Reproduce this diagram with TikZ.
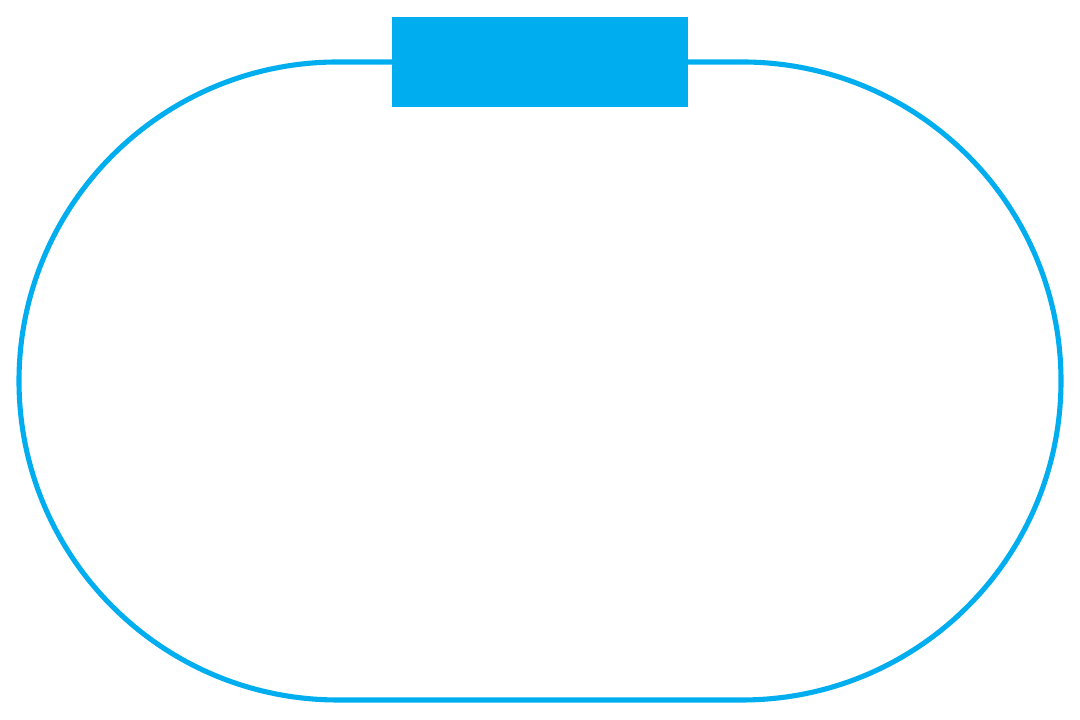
\documentclass[tikz,border=0pt]{standalone}
\usepackage{tikz}
\usetikzlibrary{positioning}
\definecolor{trackcyan}{RGB}{0,174,239}
\tikzstyle{track} = [line width=1.45pt, draw=trackcyan]
\tikzstyle{strip} = [rectangle, fill=trackcyan, draw=none, minimum width=2.96cm, minimum height=0.9cm, inner sep=0pt]

\begin{document}
\begin{tikzpicture}
\useasboundingbox (0,0) rectangle (10.8,7.2);

% Track outline
\draw[track] (3.38,0.20) -- (7.42,0.20) arc[start angle=-90, end angle=90, radius=3.19]
  -- (3.38,6.58) arc[start angle=90, end angle=270, radius=3.19] -- cycle;

% Block on top
\node (block) [strip] at (5.40,6.58) {};
\end{tikzpicture}
\end{document}
